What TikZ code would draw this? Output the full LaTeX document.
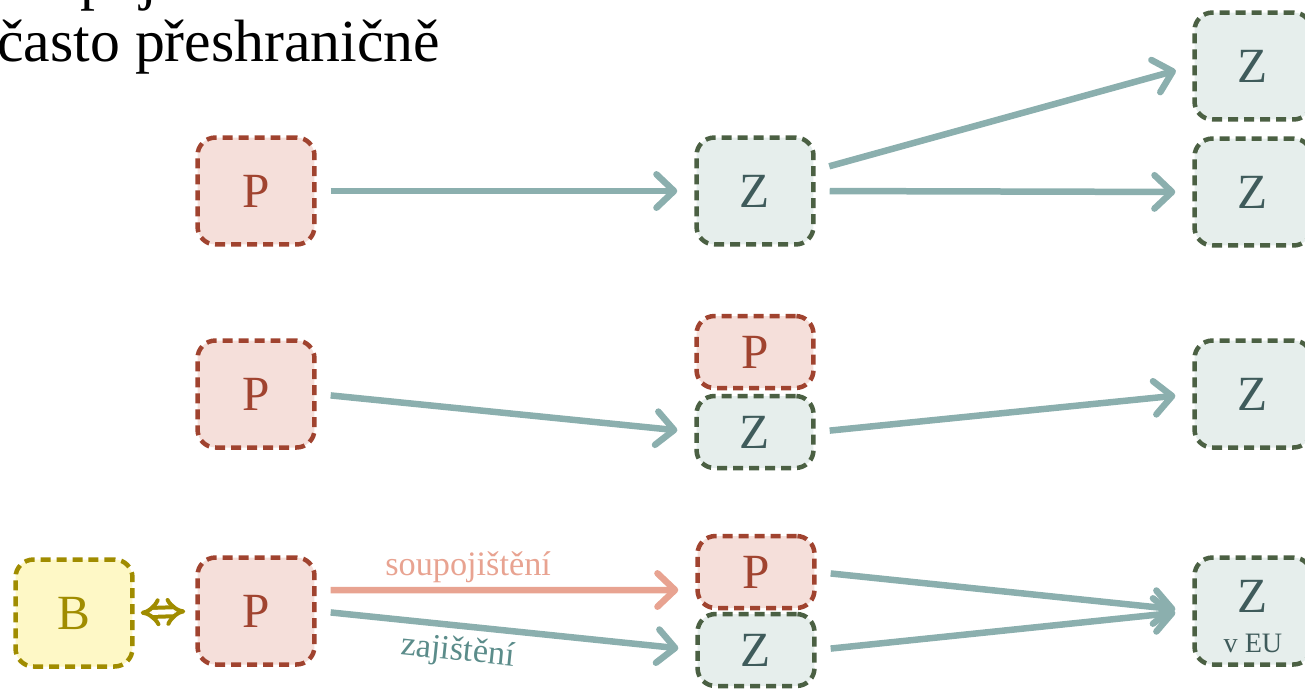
\documentclass[tikz,border=0pt]{standalone}
\usepackage{fontspec}
\setmainfont{Liberation Serif}
\usepackage{tikz}
\usetikzlibrary{arrows.meta,calc}
\definecolor{pfill}{HTML}{F5DFDA}
\definecolor{pline}{HTML}{A0432F}
\definecolor{zfill}{HTML}{E6EEEC}
\definecolor{zline}{HTML}{4B6043}
\definecolor{ztext}{HTML}{3F5B5B}
\definecolor{bfill}{HTML}{FEF8C6}
\definecolor{bline}{HTML}{A08C00}
\definecolor{flowc}{HTML}{8BAFAE}
\definecolor{coflowc}{HTML}{E8A391}
\definecolor{flowtext}{HTML}{5B8C8A}
\tikzset{
  box/.style={rounded corners=0.36cm, line width=0.09cm, dash pattern=on 0.2cm off 0.12cm,
    minimum width=2.34cm, minimum height=2.14cm, inner sep=0pt,
    font=\fontsize{28}{30}\selectfont},
  pbox/.style={box, draw=pline, fill=pfill, text=pline},
  zbox/.style={box, draw=zline, fill=zfill, text=ztext},
  bbox/.style={box, draw=bline, fill=bfill, text=bline},
  half/.style={minimum height=1.44cm},
  flow/.style={draw=flowc, line width=0.13cm, -{Straight Barb[length=10pt,width=19pt,round]},
    shorten <=0.28cm, shorten >=0.34cm},
  coflow/.style={flow, draw=coflowc},
  flowlabel/.style={font=\fontsize{19.5}{21}\selectfont}
}
\begin{document}
\begin{tikzpicture}[x=0.02cm,y=-0.02cm]
\useasboundingbox (0,0) rectangle (1305,691);
\clip (0,0) rectangle (1305,691);
% title, cut at the top
\node[anchor=base west, inner sep=0pt, font=\fontsize{34}{36}\selectfont] (title1) at (-3,-2) {soupojištění};
\node[anchor=base west, inner sep=0pt, font=\fontsize{34}{36}\selectfont] (title2) at (-3,61) {často přeshraničně};
% row 1
\node[pbox] (p1) at (256,191) {P};
\node[zbox] (z1) at (755,191) {Z};
\node[zbox] (z1a) at (1253,66) {Z};
\node[zbox] (z1b) at (1253,192) {Z};
% row 2
\node[pbox] (p2) at (256,394) {P};
\node[pbox,half] (p2m) at (755,352) {P};
\node[zbox,half] (z2m) at (755,432) {Z};
\node[zbox] (z2) at (1253,394) {Z};
% row 3
\node[bbox] (b3) at (74,613) {B};
\node[pbox] (p3) at (256,611) {P};
\node[pbox,half] (p3m) at (756,572) {P};
\node[zbox,half] (z3m) at (756,650) {Z};
\node[zbox, text depth=0.57cm,
  label={[yshift=-0.64cm, text=ztext, font=\fontsize{16}{18}\selectfont]center:v EU}] (z3) at (1253,611) {Z};
% arrows
\draw[flow] (p1.east) -- (z1.west);
\draw[flow] ([yshift=0.42cm]z1.east) -- (z1a.west);
\draw[flow] (z1.east) -- (z1b.west);
\draw[flow] (p2.east) -- (z2m.west);
\draw[flow] (z2m.east) -- (z2.west);
\draw[coflow] ([yshift=0.42cm]p3.east) -- ([yshift=-0.36cm]p3m.west)
  node[flowlabel, text=coflowc, pos=0.4, above=-1pt] {soupojištění};
\draw[flow] (p3.east) -- (z3m.west)
  node[flowlabel, text=flowtext, pos=0.38, below=1pt, sloped] {zajištění};
\draw[flow] (p3m.east) -- (z3.west);
\draw[flow] (z3m.east) -- (z3.west);
\draw[bline, line width=0.08cm, double, double distance=0.1cm, Implies-Implies,
  shorten <=0.12cm, shorten >=0.2cm] (b3.east) -- (p3.west);
\end{tikzpicture}
\end{document}
